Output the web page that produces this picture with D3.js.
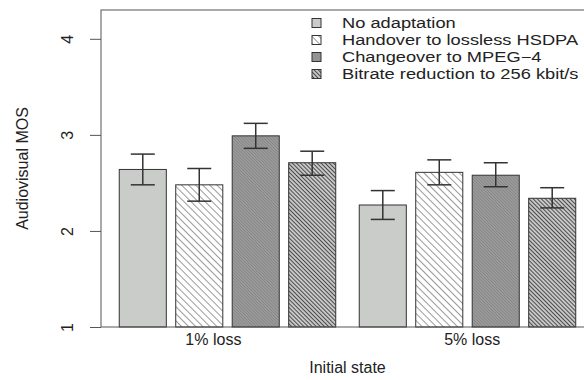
<!DOCTYPE html>
<html>
<head>
<meta charset="utf-8">
<script src="https://cdn.jsdelivr.net/npm/d3@7"></script>
<style>
  body { margin: 0; background: #fff; }
  text { font-family: "Liberation Sans", Arial, sans-serif; fill: #222; }
</style>
</head>
<body>
<div id="chart"></div>
<script>
// groups on the x axis and the four treatments
const groups = ['1% loss', '5% loss']
const groupLabelAt = [2.5, 8]          // where the group labels sit, in bar units
const series = ['No adaptation', 'Handover to lossless HSDPA', 'Changeover to MPEG\u22124', 'Bitrate reduction to 256 kbit/s']
const seriesKeys = ['none', 'handover', 'changeover', 'bitrate']

// mean MOS per group (1% loss, 5% loss)
const noAdaptation = [2.64, 2.27]
const handover = [2.48, 2.61]
const changeover = [2.99, 2.58]
const bitrate = [2.71, 2.34]

// confidence interval ends
const noAdaptationLo = [2.48, 2.12]
const noAdaptationHi = [2.80, 2.42]
const handoverLo = [2.31, 2.48]
const handoverHi = [2.65, 2.74]
const changeoverLo = [2.86, 2.46]
const changeoverHi = [3.12, 2.71]
const bitrateLo = [2.58, 2.24]
const bitrateHi = [2.83, 2.45]

const yTicks = [1, 2, 3, 4]

const means = [noAdaptation, handover, changeover, bitrate]
const lows = [noAdaptationLo, handoverLo, changeoverLo, bitrateLo]
const highs = [noAdaptationHi, handoverHi, changeoverHi, bitrateHi]

// barplot layout in bar units: width 1, 0.2 between bars, 0.5 before each group
const barW = 1, spaceIn = 0.2, spaceOut = 0.5
const bars = []
groups.forEach((g, gi) => {
  seriesKeys.forEach((k, si) => {
    const left = spaceOut + gi * (seriesKeys.length * barW + (seriesKeys.length - 1) * spaceIn + spaceOut)
      + si * (barW + spaceIn)
    bars.push({group: g, key: k, left: left, value: means[si][gi], lo: lows[si][gi], hi: highs[si][gi]})
  })
})
const xMax = d3.max(bars, d => d.left + barW)
const pad = (xMax - spaceOut) * 0.04

const width = 584, height = 380
const margin = ({top: 10, left: 101, bottom: 53})
const plotRight = 594   // the box runs off the right edge of the picture

const svg = d3.select('#chart')
  .append('svg')
    .attr('width', width)
    .attr('height', height)

// hatch patterns
const defs = svg.append('defs')
function hatch(id, bg, stroke, gap, sw) {
  const p = defs.append('pattern')
      .attr('id', id)
      .attr('patternUnits', 'userSpaceOnUse')
      .attr('width', gap)
      .attr('height', gap)
      .attr('patternTransform', 'rotate(-45)')
  p.append('rect').attr('width', gap).attr('height', gap).attr('fill', bg)
  p.append('line')
      .attr('x1', gap / 2).attr('x2', gap / 2)
      .attr('y1', 0).attr('y2', gap)
      .attr('stroke', stroke)
      .attr('stroke-width', sw)
}
hatch('hatch-handover', '#ffffff', '#9a9a9a', 5, 1)
hatch('hatch-changeover', '#9e9e9e', '#868686', 2.2, 1)
hatch('hatch-bitrate', '#d8d8d8', '#4a4a4a', 2.9, 1.2)

const fills = {
  none: '#c9ccc9',
  handover: 'url(#hatch-handover)',
  changeover: 'url(#hatch-changeover)',
  bitrate: 'url(#hatch-bitrate)'
}

const x = d3.scaleLinear()
    .domain([spaceOut - pad, xMax + pad])
    .range([margin.left, plotRight])

const y = d3.scaleLinear()
    .domain([1, 4.3])
    .range([height - margin.bottom, margin.top])

const y0 = y(1)

// bars
svg.append('g')
  .selectAll('rect')
  .data(bars)
  .join('rect')
    .attr('x', d => x(d.left))
    .attr('y', d => y(d.value))
    .attr('width', d => x(d.left + barW) - x(d.left))
    .attr('height', d => y0 - y(d.value))
    .attr('fill', d => fills[d.key])
    .attr('stroke', '#333')
    .attr('stroke-width', 1)

// error bars
const err = svg.append('g')
    .attr('stroke', '#333')
    .attr('stroke-width', 1.5)
    .selectAll('g')
    .data(bars)
    .join('g')
      .attr('transform', d => `translate(${x(d.left + barW / 2)},0)`)
err.append('line')
    .attr('y1', d => y(d.lo)).attr('y2', d => y(d.hi))
err.append('line')
    .attr('x1', -12).attr('x2', 12)
    .attr('y1', d => y(d.hi)).attr('y2', d => y(d.hi))
err.append('line')
    .attr('x1', -12).attr('x2', 12)
    .attr('y1', d => y(d.lo)).attr('y2', d => y(d.lo))

// box
svg.append('rect')
    .attr('x', margin.left)
    .attr('y', margin.top)
    .attr('width', plotRight - margin.left)
    .attr('height', y0 - margin.top)
    .attr('fill', 'none')
    .attr('stroke', '#555')
    .attr('stroke-width', 1)

// y axis
const yAxis = svg.append('g')
    .attr('transform', `translate(${margin.left},0)`)
    .call(d3.axisLeft(y).tickValues(yTicks).tickSize(11).tickFormat(d3.format('d')))
yAxis.select('.domain').remove()
yAxis.selectAll('.tick line').attr('stroke', '#555')
yAxis.selectAll('.tick text')
    .attr('x', 0).attr('dy', 0)
    .attr('transform', 'translate(-34,0) rotate(-90)')
    .attr('text-anchor', 'middle')
    .attr('dominant-baseline', 'central')
    .style('font-size', '16px')
    .style('font-family', '"Liberation Sans", Arial, sans-serif')
    .attr('fill', '#222')

// x group labels
svg.append('g')
  .selectAll('text')
  .data(groups)
  .join('text')
    .attr('x', (d, i) => x(groupLabelAt[i]))
    .attr('y', y0 + 18)
    .attr('text-anchor', 'middle')
    .style('font-size', '16px')
    .text(d => d)

// axis titles
svg.append('text')
    .attr('x', (margin.left + plotRight) / 2)
    .attr('y', 373)
    .attr('text-anchor', 'middle')
    .style('font-size', '16px')
    .text('Initial state')

svg.append('text')
    .attr('transform', `translate(28,${(margin.top + y0) / 2}) rotate(-90)`)
    .attr('text-anchor', 'middle')
    .style('font-size', '16px')
    .text('Audiovisual MOS')

// legend (text is wide in the original, so stretch it a little)
const legend = svg.append('g')
    .selectAll('g')
    .data(seriesKeys)
    .join('g')
      .attr('transform', (d, i) => `translate(312,${23 + i * 17})`)
legend.append('rect')
    .attr('x', 0).attr('y', -4.5)
    .attr('width', 9).attr('height', 9)
    .attr('fill', d => fills[d])
    .attr('stroke', '#333')
legend.append('text')
    .attr('transform', 'translate(30,0) scale(1.26,1)')
    .attr('dominant-baseline', 'central')
    .style('font-size', '14.5px')
    .text((d, i) => series[i])
</script>
</body>
</html>
